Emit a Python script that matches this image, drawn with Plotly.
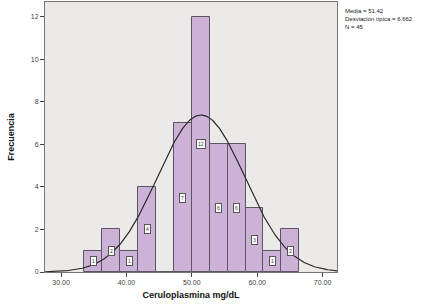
import numpy as np
import plotly.graph_objects as go

# Data
bin_edges = [33.56, 36.30, 39.04, 41.78, 44.52, 47.26, 50.00, 52.74, 55.48, 58.22, 60.96, 63.70, 66.44]
counts = [1, 2, 1, 4, 0, 7, 12, 6, 6, 3, 1, 2]
mean_val = 51.42
sd_val = 6.662
n_val = 45
x_ticks = [30, 40, 50, 60, 70]
x_tick_labels = ["30.00", "40.00", "50.00", "60.00", "70.00"]
y_ticks = [0, 2, 4, 6, 8, 10, 12]

centers = [(a + b) / 2 for a, b in zip(bin_edges[:-1], bin_edges[1:])]
widths = [b - a for a, b in zip(bin_edges[:-1], bin_edges[1:])]
bw = float(np.mean(widths))

fig = go.Figure()
fig.add_trace(go.Bar(
    x=centers, y=counts, width=widths,
    marker=dict(color="#CDB2D8", line=dict(color="#5a5560", width=1)),
    hoverinfo="skip", showlegend=False,
))

# Normal curve fitted with stated mean/sd, scaled to counts
xr = [27.55, 72.2]
xs = np.linspace(xr[0], xr[1], 300)
ys = n_val * bw / (sd_val * np.sqrt(2 * np.pi)) * np.exp(-0.5 * ((xs - mean_val) / sd_val) ** 2)
fig.add_trace(go.Scatter(x=xs, y=ys, mode="lines", line=dict(color="#2a2a2a", width=1.2),
                         hoverinfo="skip", showlegend=False))

# Count labels in boxes at mid-height of bars
for c, v in zip(centers, counts):
    if v > 0:
        fig.add_annotation(x=c, y=v / 2, text=str(v), showarrow=False,
                           font=dict(family="Liberation Sans", size=5, color="#333"),
                           bgcolor="white", bordercolor="#555", borderwidth=1, borderpad=1)

fig.add_annotation(xref="paper", yref="paper", x=1.02, y=0.985, xanchor="left", yanchor="top",
                   align="left", showarrow=False,
                   text=f"Media = {mean_val:.2f}<br>Desviación típica = {sd_val:.3f}<br>N = {n_val}",
                   font=dict(family="Liberation Sans", size=6, color="#222"))

fig.update_layout(
    width=435, height=304,
    margin=dict(l=45, r=98, t=2, b=32),
    paper_bgcolor="white", plot_bgcolor="#EBEAE8",
    bargap=0,
    font=dict(family="Liberation Sans", color="#333"),
    xaxis=dict(range=xr, tickvals=x_ticks, ticktext=x_tick_labels, ticks="outside", ticklen=4,
               tickcolor="#444", tickfont=dict(size=7, color="#444"),
               showgrid=False, zeroline=False, showline=True, linecolor="#777", linewidth=1, mirror=True,
               title=dict(text="<b>Ceruloplasmina mg/dL</b>", font=dict(size=9, color="#111"), standoff=6)),
    yaxis=dict(range=[0, 12.7], tickvals=y_ticks, ticks="outside", ticklen=4,
               tickcolor="#444", tickfont=dict(size=7, color="#444"),
               showgrid=False, zeroline=False, showline=True, linecolor="#777", linewidth=1, mirror=True,
               title=dict(text="<b>Frecuencia</b>", font=dict(size=9, color="#111"), standoff=14)),
)

fig.write_html("out.html", config={"displayModeBar": False},
               post_script="document.body.style.margin='0px';document.body.style.overflow='hidden';")
